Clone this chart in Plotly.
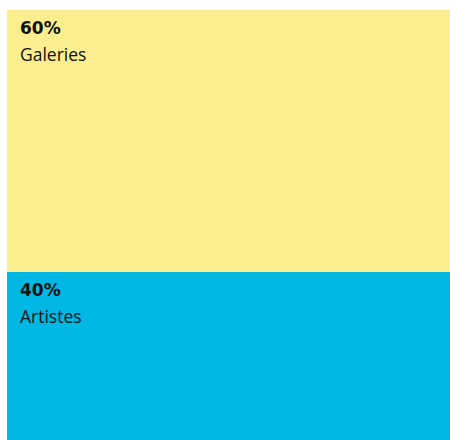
import plotly.graph_objects as go

categories = ["Artistes", "Galeries"]
values = [40, 60]
labels = ["40%", "60%"]

colors = ["#00B8E3", "#FBEE8F"]

fig = go.Figure()
base = 0
annotations = []
for cat, val, lab, col in zip(categories, values, labels, colors):
    fig.add_trace(go.Bar(
        x=["all"], y=[val], name=cat, marker=dict(color=col, line=dict(width=0)),
        hoverinfo="skip", showlegend=False,
    ))
    top = base + val
    annotations.append(dict(
        x=0, xref="paper", y=top, yref="y", xanchor="left", yanchor="middle",
        xshift=11, yshift=-18, showarrow=False,
        text="<b>" + lab + "</b>",
        font=dict(family="DejaVu Sans, sans-serif", size=17, color="#111111"),
    ))
    annotations.append(dict(
        x=0, xref="paper", y=top, yref="y", xanchor="left", yanchor="middle",
        xshift=11, yshift=-44, showarrow=False,
        text=cat,
        font=dict(family="Open Sans, sans-serif", size=17.5, color="#111111"),
    ))
    base = top

fig.update_layout(
    barmode="stack", bargap=0,
    width=450, height=440,
    margin=dict(l=7, r=0, t=10, b=0),
    paper_bgcolor="white", plot_bgcolor="white",
    xaxis=dict(visible=False, range=[-0.5, 0.5]),
    yaxis=dict(visible=False, range=[1.5, 100]),
    annotations=annotations,
)

fig.write_html(
    "out.html",
    config={"displayModeBar": False},
    post_script="document.body.style.margin='0';document.body.style.overflow='hidden';",
)
